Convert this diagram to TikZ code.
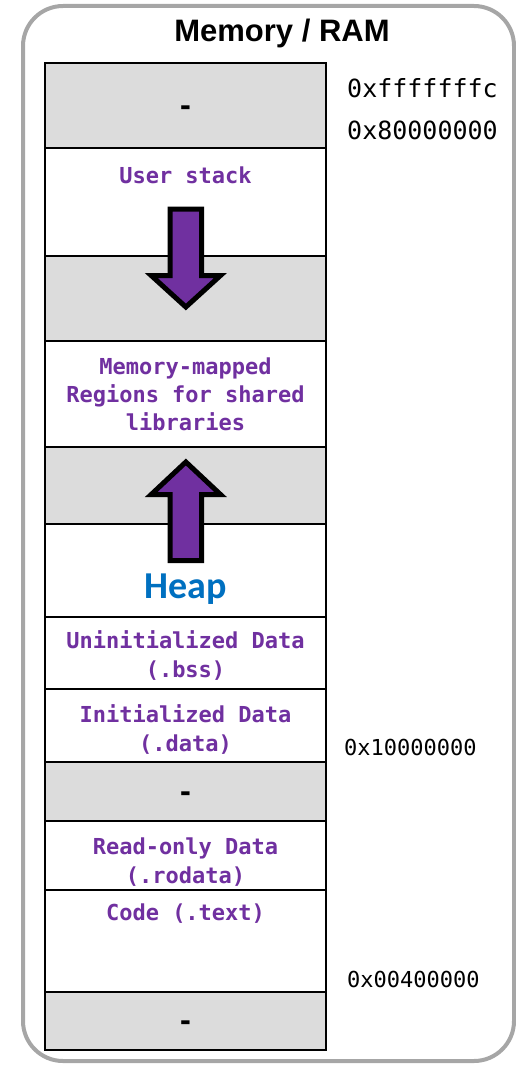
\documentclass[tikz,border=0pt]{standalone}
\usepackage{fontspec}
\setmainfont{Liberation Sans}
\newfontfamily\memmono{DejaVu Sans Mono}
\newfontfamily\heapfont{Carlito}
\definecolor{memgray}{HTML}{DCDCDC}
\definecolor{framegray}{HTML}{A6A6A6}
\definecolor{labpurple}{HTML}{7030A0}
\definecolor{heapblue}{HTML}{0070C0}
\tikzset{
  seg/.style={draw=black, line width=2.2pt, minimum width=281pt, inner sep=0pt, fill=white},
  freeseg/.style={seg, fill=memgray},
  lbl/.style={font=\memmono\bfseries\fontsize{22}{26}\selectfont, text=labpurple, inner sep=0pt, anchor=base},
  dashlbl/.style={font=\memmono\bfseries\fontsize{27}{30}\selectfont, text=black, inner sep=0pt, anchor=base},
  addrbig/.style={font=\memmono\fontsize{25}{30}\selectfont, inner sep=0pt, anchor=base west},
  addrsmall/.style={font=\memmono\fontsize{22}{26}\selectfont, inner sep=0pt, anchor=base west},
  bigarrow/.style={draw=black, fill=labpurple, line width=5pt, line join=miter},
}
\begin{document}
\begin{tikzpicture}[x=1pt,y=-1pt]
\useasboundingbox (0,0) rectangle (516,1065);
\node[draw=framegray, line width=4pt, rounded corners=40pt, minimum width=491pt, minimum height=1055pt, inner sep=0pt] (ram) at (268.5,533.5) {};
\node[font=\bfseries\fontsize{31}{36}\selectfont, inner sep=0pt, anchor=base] (title) at (282,41.7) {Memory / RAM};
% segments
\node[freeseg, minimum height=85pt] (r1) at (185.5,105.5) {};
\node[seg, minimum height=108pt] (r2) at (185.5,202) {};
\node[freeseg, minimum height=85pt] (r3) at (185.5,298.5) {};
\node[seg, minimum height=106pt] (r4) at (185.5,394) {};
\node[freeseg, minimum height=77pt] (r5) at (185.5,485.5) {};
\node[seg, minimum height=93pt] (r6) at (185.5,570.5) {};
\node[seg, minimum height=72pt] (r7) at (185.5,653) {};
\node[seg, minimum height=73pt] (r8) at (185.5,725.5) {};
\node[freeseg, minimum height=59pt] (r9) at (185.5,791.5) {};
\node[seg, minimum height=69pt] (r10) at (185.5,855.5) {};
\node[seg, minimum height=102pt] (r11) at (185.5,941) {};
\node[freeseg, minimum height=58pt] (r12) at (185.5,1021) {};
% labels
\node[dashlbl] (d1) at (185.5,115.5) {-};
\node[lbl] (t2) at (185.5,183) {User stack};
\node[lbl] (t4a) at (185.5,374) {Memory-mapped};
\node[lbl] (t4b) at (185.5,402.5) {Regions for shared};
\node[lbl] (t4c) at (185.5,430.5) {libraries};
\node[font=\heapfont\bfseries\fontsize{38}{44}\selectfont, text=heapblue, inner sep=0pt, anchor=base] (t6) at (185.5,598) {Heap};
\node[lbl] (t7a) at (185.5,648) {Uninitialized Data};
\node[lbl] (t7b) at (185.5,677) {(.bss)};
\node[lbl] (t8a) at (185.5,722) {Initialized Data};
\node[lbl] (t8b) at (185.5,751) {(.data)};
\node[dashlbl] (d9) at (185.5,801.5) {-};
\node[lbl] (t10a) at (185.5,854) {Read-only Data};
\node[lbl] (t10b) at (185.5,883) {(.rodata)};
\node[lbl] (t11) at (185.5,920) {Code (.text)};
\node[dashlbl] (d12) at (185.5,1030.5) {-};
% addresses
\node[addrbig] (a1) at (347,97) {0xfffffffc};
\node[addrbig] (a2) at (347,139) {0x80000000};
\node[addrsmall] (a3) at (344,755) {0x10000000};
\node[addrsmall] (a4) at (347,987) {0x00400000};
% arrows
\draw[bigarrow] (170.2,209.2) -- (201.5,209.2) -- (201.5,275.5) -- (220.5,275.5) -- (185.85,307) -- (151.2,275.5) -- (170.2,275.5) -- cycle;
\draw[bigarrow] (170.2,560.5) -- (201.5,560.5) -- (201.5,494.5) -- (220.5,494.5) -- (185.85,462) -- (151.2,494.5) -- (170.2,494.5) -- cycle;
\end{tikzpicture}
\end{document}
